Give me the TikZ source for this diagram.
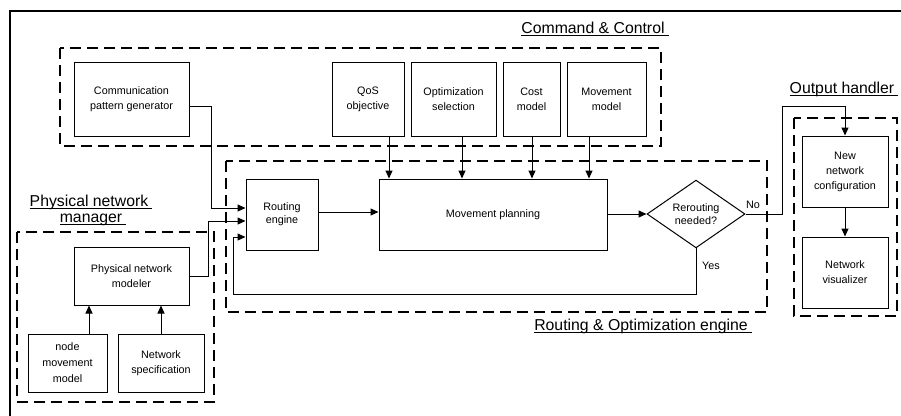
\documentclass[tikz,border=0pt]{standalone}
\usepackage{fontspec}
\setmainfont{Liberation Sans}
\usetikzlibrary{arrows.meta,shapes.geometric}

\begin{document}
\begin{tikzpicture}[x=1pt,y=-1pt,
  box/.style={draw, line width=1pt, align=center, inner sep=1pt,
              font=\fontsize{10.8}{15}\selectfont},
  tight/.style={font=\fontsize{10.8}{13}\selectfont},
  group/.style={draw, line width=2.8pt, dash pattern=on 11pt off 6pt},
  link/.style={line width=1pt},
  arr/.style={link, -{Triangle[length=8pt,width=7pt]}},
  title/.style={font=\fontsize{15.8}{19}\selectfont, inner sep=0pt},
  uline/.style={line width=0.9pt},
  note/.style={font=\fontsize{10.8}{13}\selectfont},
]
\useasboundingbox (0,0) rectangle (901,415);

% outer frame
\draw[line width=1.2pt] (10,420) -- (10,11) -- (906,11);

% group outlines
\draw[group] (60,48) rectangle (661,146);
\draw[group] (226,161) rectangle (767,312);
\draw[group] (17,232) rectangle (214,402);
\draw[group] (794,118) rectangle (897,316);

% group titles, underlined just below the baseline
\node[title] (ccTitle) at (593,28) {Command \& Control};
\node[title] (ohTitle) at (842,89) {Output handler};
\node[title] (roTitle) at (641,326) {Routing \& Optimization engine};
\node[title] (pnTitleA) at (89,202) {Physical network};
\node[title] (pnTitleB) at (91,220) {manager};
\foreach \t in {ccTitle,ohTitle,roTitle,pnTitleA,pnTitleB}
  \draw[uline] ([yshift=-2pt]\t.base west) -- ([yshift=-2pt,xshift=4pt]\t.base east);

% command & control
\node[box, minimum width=115pt, minimum height=74pt] (comm) at (131.5,99) {Communication\\pattern generator};
\node[box, minimum width=72pt, minimum height=74pt] (qos) at (368,99) {QoS\\objective};
\node[box, minimum width=85pt, minimum height=74pt] (optsel) at (453.5,99) {Optimization\\selection};
\node[box, minimum width=57pt, minimum height=74pt] (cost) at (531.5,99) {Cost\\model};
\node[box, minimum width=79pt, minimum height=74pt] (movmod) at (606.5,99) {Movement\\model};

% routing & optimization engine
\node[box, tight, minimum width=72pt, minimum height=71pt] (route) at (282,214.5) {Routing\\engine};
\node[box, minimum width=228pt, minimum height=71pt] (plan) at (493,214.5) {Movement planning};
\node[box, tight, diamond, minimum width=98pt, minimum height=64pt, inner sep=0pt] (dec) at (696,214) {Rerouting\\needed?};

% physical network manager
\node[box, minimum width=115pt, minimum height=58pt] (pnm) at (131.5,276) {Physical network\\modeler};
\node[box, font=\fontsize{10.8}{16}\selectfont, minimum width=79pt, minimum height=58pt] (nmm) at (67.5,363) {node\\movement\\model};
\node[box, minimum width=86pt, minimum height=58pt] (nspec) at (161,363) {Network\\specification};

% output handler
\node[box, minimum width=86pt, minimum height=71pt] (newcfg) at (845,171.5) {New\\network\\configuration};
\node[box, minimum width=86pt, minimum height=71pt] (netvis) at (845,272.5) {Network\\visualizer};

% routing points
\coordinate (commOut) at (189,106);
\coordinate (commIn) at (211,208);
\coordinate (pnmOut) at (189,276);
\coordinate (pnmIn) at (208,221);
\coordinate (loopIn) at (233,237);
\coordinate (loopLow) at (696,294);
\coordinate (noBend) at (782,106);

% connectors into the routing engine
\draw[arr] (commOut) -| (commIn) -- (route.west |- commIn);
\draw[arr] (pnmOut) -| (pnmIn) -- (route.west |- pnmIn);
\draw[arr] (dec.south) -- (loopLow) -| (loopIn) -- (route.west |- loopIn);

% engine flow
\draw[arr] (route.east |- 0,212) -- (plan.west |- 0,212);
\draw[arr] (plan.east |- dec.west) -- (dec.west);
\draw[arr] (dec.east) -| (noBend) -| (newcfg.north);
\draw[arr] (newcfg.south) -- (netvis.north);

% command & control inputs
\draw[arr] (qos.south -| 389,0) -- (plan.north -| 389,0);
\draw[arr] (optsel.south -| 462,0) -- (plan.north -| 462,0);
\draw[arr] (cost.south -| 532,0) -- (plan.north -| 532,0);
\draw[arr] (movmod.south -| 589,0) -- (plan.north -| 589,0);

% physical model inputs
\draw[arr] (nmm.north -| 89,0) -- (pnm.south -| 89,0);
\draw[arr] (nspec.north) -- (pnm.south -| nspec.north);

% branch labels
\node[note] (noLabel) at (753,205) {No};
\node[note] (yesLabel) at (711,266) {Yes};
\end{tikzpicture}
\end{document}
